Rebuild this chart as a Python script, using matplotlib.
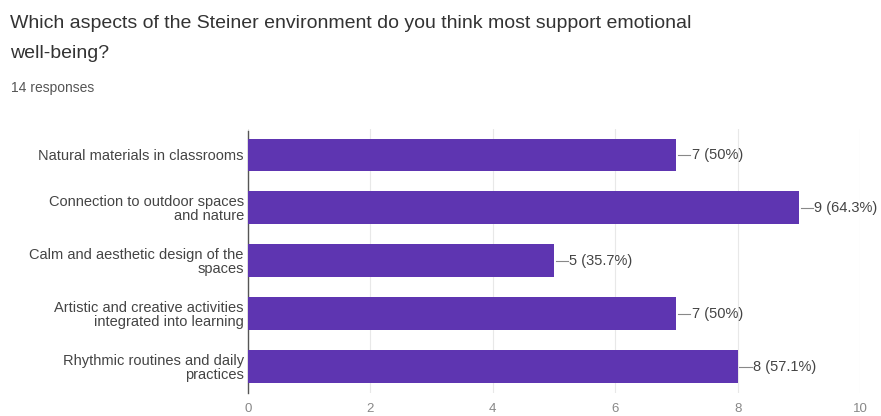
import matplotlib
matplotlib.use("Agg")
import matplotlib.pyplot as plt

plt.rcParams['font.family'] = ['Liberation Sans', 'DejaVu Sans']

title_lines = ["Which aspects of the Steiner environment do you think most support emotional",
               "well-being?"]
subtitle = "14 responses"
categories = [
    "Natural materials in classrooms",
    "Connection to outdoor spaces\nand nature",
    "Calm and aesthetic design of the\nspaces",
    "Artistic and creative activities\nintegrated into learning",
    "Rhythmic routines and daily\npractices",
]
counts = [7, 9, 5, 7, 8]
labels = ["7 (50%)", "9 (64.3%)", "5 (35.7%)", "7 (50%)", "8 (57.1%)"]
xticks = [0, 2, 4, 6, 8, 10]

bar_color = "#5e35b1"
text_color = "#444444"

fig = plt.figure(figsize=(8.81, 4.16), dpi=100)
for i, line in enumerate(title_lines):
    fig.text(10 / 881, 1 - (23 + 30 * i) / 416, line, fontsize=14, color="#333333",
             va="center", ha="left")
fig.text(11 / 881, 1 - 88 / 416, subtitle, fontsize=10, color="#555555",
         va="center", ha="left")

ax = fig.add_axes([248 / 881, 1 - 393 / 416, 612 / 881, 264.5 / 416])
y = list(range(len(categories)))
ax.barh(y, counts, height=0.62, color=bar_color, zorder=3)
ax.set_ylim(len(categories) - 0.5, -0.5)
ax.set_xlim(0, 10)
ax.set_xticks(xticks)
ax.set_xticklabels([str(t) for t in xticks], fontsize=9.5, color="#888888")
ax.set_yticks(y)
ax.set_yticklabels(categories, fontsize=10.5, color=text_color, linespacing=1.0,
                   multialignment='right')
ax.tick_params(axis='y', length=0, pad=3)
ax.tick_params(axis='x', length=0, pad=7)
ax.grid(axis='x', color="#e8e8e8", linewidth=0.8, zorder=0)
for s in ['top', 'right', 'bottom']:
    ax.spines[s].set_visible(False)
ax.spines['left'].set_color("#555555")
ax.spines['left'].set_linewidth(1.0)
ax.spines['left'].set_bounds(len(categories) - 0.5, -0.45)

for yi, v, lab in zip(y, counts, labels):
    ax.plot([v + 0.03, v + 0.23], [yi, yi], color="#888888", lw=0.8, zorder=4)
    ax.text(v + 0.25, yi, lab, fontsize=10.5, color=text_color, va="center", ha="left")

fig.savefig("out.png", dpi=100)
